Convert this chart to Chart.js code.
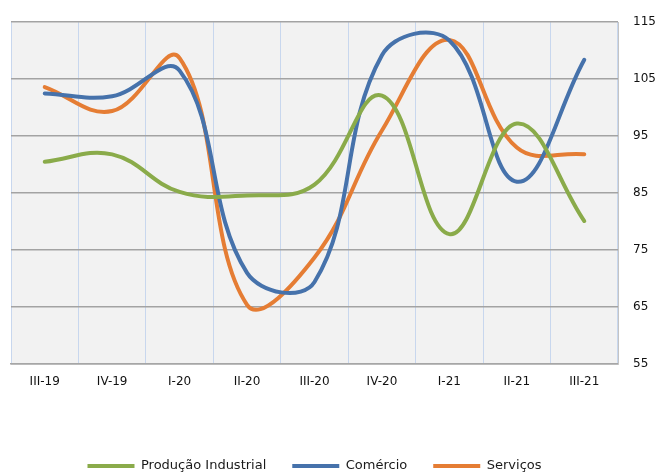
<!DOCTYPE html>
<html>
<head>
<meta charset="utf-8">
<script src="https://cdn.jsdelivr.net/npm/chart.js@4/dist/chart.umd.min.js"></script>
<style>
  html, body { margin: 0; padding: 0; background: #ffffff; }
  #wrap { width: 658px; height: 473px; }
</style>
</head>
<body>
<div id="wrap"><canvas id="c" width="658" height="473"></canvas></div>
<script>
// Quarterly indices, III-2019 to III-2021
const quarters = ['III-19', 'IV-19', 'I-20', 'II-20', 'III-20', 'IV-20', 'I-21', 'II-21', 'III-21'];
const producaoIndustrial = [90.5, 91.8, 85.2, 84.6, 86.5, 102.1, 77.8, 97.2, 80.1];
const comercio = [102.5, 102.0, 106.5, 71.0, 69.4, 109.2, 111.8, 87.0, 108.4];
const servicos = [103.6, 99.4, 108.7, 65.4, 73.7, 96.0, 111.9, 93.0, 91.8];
const yMin = 55, yMax = 115, yStep = 10;

const seriesNames = ['Produção Industrial', 'Comércio', 'Serviços'];
const seriesColors = ['#8aab4a', '#4672ab', '#e57d34'];
const seriesValues = [producaoIndustrial, comercio, servicos];

const FONT = 'DejaVu Sans';
const LEGEND_FONT_SIZE = 13;
const LEGEND_PADDING = 26;

// light grey plot background
const plotBackground = {
  id: 'plotBackground',
  beforeDraw(chart) {
    const { ctx, chartArea: a } = chart;
    ctx.save();
    ctx.fillStyle = '#f2f2f2';
    ctx.fillRect(a.left, a.top, a.right - a.left, a.bottom - a.top);
    ctx.restore();
  }
};

// keep the legend centred under the plot area and near the bottom edge
const legendPlacement = {
  id: 'legendPlacement',
  afterLayout(chart) {
    const lg = chart.legend, a = chart.chartArea;
    if (!lg) return;
    const dx = (a.left + a.right) / 2 - (lg.left + lg.right) / 2;
    lg.left += dx; lg.right += dx;
    const dy = (466 - LEGEND_PADDING - LEGEND_FONT_SIZE / 2) - lg.top;
    lg.top += dy; lg.bottom += dy;
  }
};

new Chart(document.getElementById('c'), {
  type: 'line',
  data: {
    labels: quarters,
    datasets: seriesValues.map((vals, i) => ({
      label: seriesNames[i],
      data: vals,
      borderColor: seriesColors[i],
      backgroundColor: seriesColors[i],
      borderWidth: 4,
      pointRadius: 0,
      tension: 0.4,
      fill: false,
      borderCapStyle: 'round',
      borderJoinStyle: 'round'
    }))
  },
  options: {
    responsive: false,
    devicePixelRatio: 1,
    animation: false,
    layout: { padding: { top: 19, left: 11, right: 0, bottom: 0 } },
    plugins: {
      tooltip: { enabled: false },
      legend: {
        position: 'bottom',
        maxHeight: 44,
        labels: {
          boxWidth: 47,
          boxHeight: 4,
          padding: LEGEND_PADDING,
          color: '#1a1a1a',
          font: { family: FONT, size: LEGEND_FONT_SIZE },
          generateLabels(chart) {
            return chart.data.datasets.map((ds, i) => ({
              text: ds.label,
              fillStyle: ds.borderColor,
              strokeStyle: ds.borderColor,
              lineWidth: 0,
              fontColor: '#1a1a1a',
              hidden: false,
              datasetIndex: i
            }));
          }
        }
      }
    },
    scales: {
      x: {
        offset: true,
        grid: { offset: true, color: '#c8d7ee', lineWidth: 1, drawTicks: false },
        border: { color: '#a6a6a6', width: 1.5 },
        ticks: { padding: 11, color: '#111', maxRotation: 0, font: { family: FONT, size: 12 } },
        afterFit(s) { s.height = 65; }
      },
      y: {
        position: 'right',
        min: yMin,
        max: yMax,
        grid: { color: '#a3a3a3', lineWidth: 1.5, drawTicks: false },
        border: { color: '#c4c4c4', width: 1 },
        ticks: { stepSize: yStep, padding: 15, color: '#111', font: { family: FONT, size: 12 } },
        afterFit(s) { s.width = 40; }
      }
    }
  },
  plugins: [plotBackground, legendPlacement]
});
</script>
</body>
</html>
